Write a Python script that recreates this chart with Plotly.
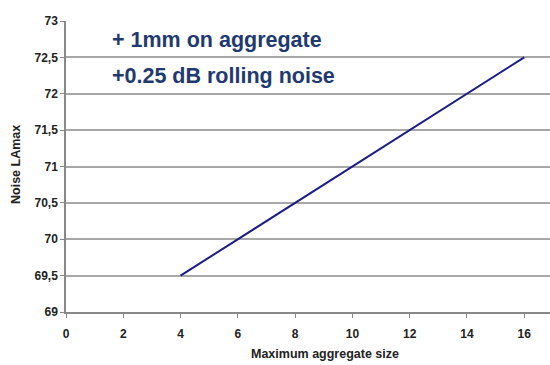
import plotly.graph_objects as go

# Data
aggregate_size = [4, 8, 12, 16]
noise_lamax = [69.5, 70.5, 71.5, 72.5]

x_ticks = [0, 2, 4, 6, 8, 10, 12, 14, 16]
y_ticks = [69, 69.5, 70, 70.5, 71, 71.5, 72, 72.5, 73]
y_tick_text = ["69", "69,5", "70", "70,5", "71", "71,5", "72", "72,5", "73"]

notes = ["+ 1mm on aggregate", "+0.25 dB rolling noise"]
note_y = [72.74, 72.245]

FONT = "Liberation Sans, Arial"

fig = go.Figure()
fig.add_trace(
    go.Scatter(
        x=aggregate_size,
        y=noise_lamax,
        mode="lines",
        line=dict(color="#1c1c84", width=2),
        hoverinfo="skip",
    )
)

# text notes inside the plot
for text, y in zip(notes, note_y):
    fig.add_annotation(
        x=1.55, y=y, xref="x", yref="y",
        text=f"<b>{text}</b>", showarrow=False,
        xanchor="left", yanchor="middle",
        font=dict(family=FONT, size=21.5, color="#1f3a70"),
    )

# axis titles placed by hand (plot area: x 66..550, y 21..312)
fig.add_annotation(
    x=(325 - 66) / 484, y=(312 - 354) / 291, xref="paper", yref="paper",
    text="<b>Maximum aggregate size</b>", showarrow=False,
    xanchor="center", yanchor="middle",
    font=dict(family=FONT, size=12.5, color="#222"),
)
fig.add_annotation(
    x=(16 - 66) / 484, y=(312 - 165) / 291, xref="paper", yref="paper",
    text="<b>Noise LAmax</b>", showarrow=False, textangle=-90,
    xanchor="center", yanchor="middle",
    font=dict(family=FONT, size=12.5, color="#222"),
)

fig.update_layout(
    width=550,
    height=365,
    margin=dict(l=66, r=0, t=21, b=53),
    paper_bgcolor="white",
    plot_bgcolor="white",
    showlegend=False,
    font=dict(family=FONT, size=12, color="#222"),
)

fig.update_xaxes(
    range=[0, 16.9],
    tickvals=x_ticks,
    ticktext=[f"<b>{v}</b>" for v in x_ticks],
    showgrid=False,
    zeroline=False,
    showline=True,
    linecolor="#888",
    linewidth=1.5,
    ticks="outside",
    ticklen=4,
    tickcolor="#888",
    ticklabelstandoff=6,
    automargin=False,
)

fig.update_yaxes(
    range=[69, 73],
    tickvals=y_ticks,
    ticktext=[f"<b>{t}</b>" for t in y_tick_text],
    showgrid=True,
    gridcolor="#a8a8a8",
    gridwidth=1.5,
    zeroline=False,
    showline=True,
    linecolor="#888",
    linewidth=1.5,
    ticks="outside",
    ticklen=4,
    tickcolor="#888",
    automargin=False,
)

# drop the default page margin so the figure sits at the window's corner
fig.write_html(
    "out.html",
    config={"displayModeBar": False},
    post_script="document.body.style.margin='0';",
)
